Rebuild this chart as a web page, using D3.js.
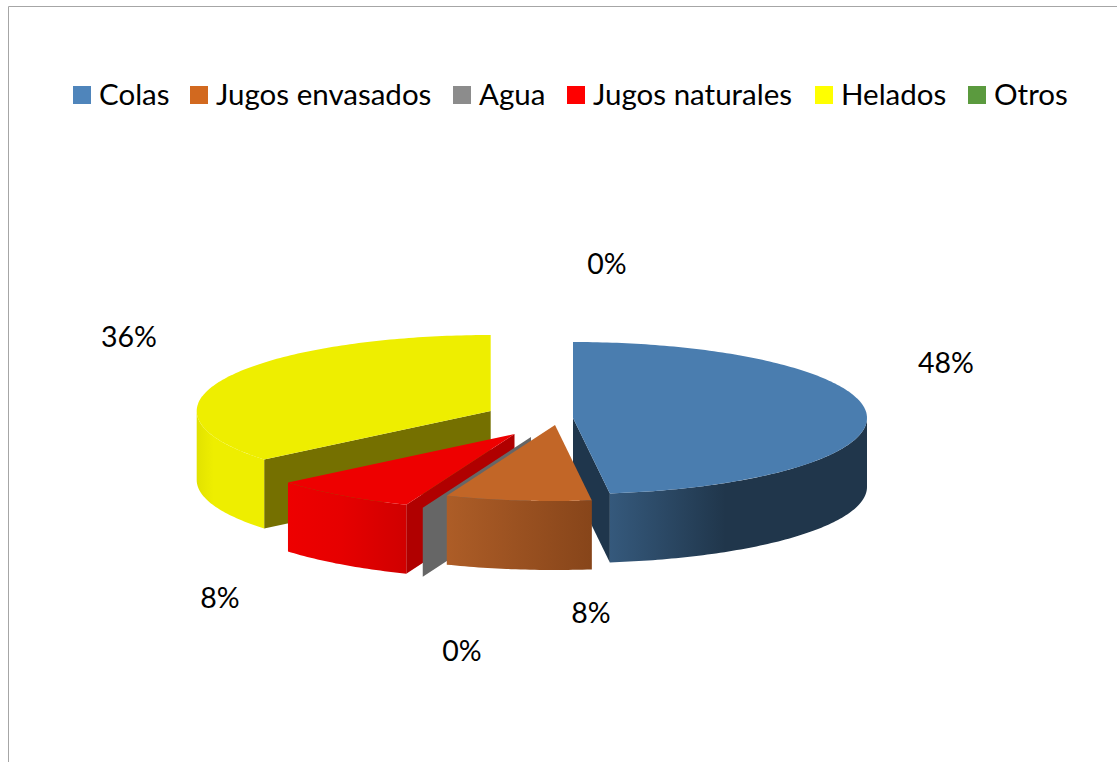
<!DOCTYPE html>
<html>
<head>
<meta charset="utf-8">
<script src="https://cdn.jsdelivr.net/npm/d3@7"></script>
<style>
html, body { margin: 0; padding: 0; background: #fff; overflow: hidden; }
text { font-family: Lato, sans-serif; fill: #000; }
</style>
</head>
<body>
<svg id="chart"></svg>
<script>
const categories = ["Colas", "Jugos envasados", "Agua", "Jugos naturales", "Helados", "Otros"];
const percents = [48, 8, 0, 8, 36, 0];

const topColors = ["#4a7daf", "#c26627", "#666666", "#ee0000", "#eeee00", "#5b9a3e"];
const radialColors = ["#1f364c", "#85441a", "#666666", "#b00000", "#757000", "#3c6629"];
const rimStops = [
    [[0, "#35597c"], [0.45, "#20364b"], [1, "#20364b"]],
    [[0, "#ad5d27"], [1, "#87451a"]],
    [[0, "#666666"], [1, "#666666"]],
    [[0, "#ee0000"], [0.45, "#e60000"], [1, "#d00000"]],
    [[0, "#e2e200"], [0.25, "#eeee00"], [1, "#eeee00"]],
    [[0, "#3c6629"], [1, "#3c6629"]]
];
const legendColors = ["#4f85bb", "#d2691f", "#8c8c8c", "#ff0000", "#ffff00", "#5b9a3e"];

const centers = [[573, 418], [555, 425], [531, 437], [514.5, 434], [490.7, 411], [530, 400]];
const labelPos = [[946, 363], [591, 613], [462, 651], [220, 598], [129, 337], [607, 264]];
const legendX = [73, 190, 453, 567, 815, 968];

const width = 1117, height = 762;
const wallHeight = 69;
const drawOrder = [4, 0, 3, 2, 1, 5];

const svg = d3.select("#chart").attr("width", width).attr("height", height);
const defs = svg.append("defs");

// unit disc to screen, the disc is squashed to look tilted
const xDisc = d3.scaleLinear().domain([-1, 1]).range([-294, 294]);
const yDisc = d3.scaleLinear().domain([-1, 1]).range([-76, 76]);

const slices = d3.pie().sort(null).value(d => d)(percents);

function rimPoint(i, a, drop) {
    return [centers[i][0] + xDisc(Math.sin(a)), centers[i][1] + yDisc(-Math.cos(a)) + drop];
}

function arcPoints(i, a0, a1, drop) {
    let n = Math.max(2, Math.ceil((a1 - a0) * 60));
    return d3.range(n + 1).map(k => rimPoint(i, a0 + (a1 - a0) * k / n, drop));
}

const line = d3.line();

// frame, only top and left are inside the picture
svg.append("path")
    .attr("d", line([[8.5, height], [8.5, 6.5], [width, 6.5]]))
    .attr("fill", "none")
    .attr("stroke", "#a6a6a6")
    .attr("stroke-width", 1);

const pieG = svg.append("g");

drawOrder.forEach(i => {
    let s = slices[i];
    let c = centers[i];
    let g = pieG.append("g").attr("class", "slice");

    // straight cut faces
    [[s.startAngle, s.startAngle > Math.PI], [s.endAngle, s.endAngle < Math.PI]].forEach(([a, show]) => {
        if (!show) return;
        let p = rimPoint(i, a, 0);
        g.append("path")
            .attr("d", line([c, p, [p[0], p[1] + wallHeight], [c[0], c[1] + wallHeight]]) + "Z")
            .attr("fill", radialColors[i]);
    });

    // curved front wall, only the part between 3 and 9 o'clock can be seen
    let a0 = Math.max(s.startAngle, Math.PI / 2);
    let a1 = Math.min(s.endAngle, Math.PI * 1.5);
    if (a1 > a0) {
        let grad = defs.append("linearGradient").attr("id", "rim" + i);
        rimStops[i].forEach(st => grad.append("stop").attr("offset", st[0]).attr("stop-color", st[1]));
        let upper = arcPoints(i, a0, a1, 0);
        let lower = arcPoints(i, a0, a1, wallHeight).reverse();
        g.append("path")
            .attr("d", line(upper.concat(lower)) + "Z")
            .attr("fill", `url(#rim${i})`);
    }

    // top face
    if (s.endAngle > s.startAngle) {
        g.append("path")
            .attr("d", line([c].concat(arcPoints(i, s.startAngle, s.endAngle, 0))) + "Z")
            .attr("fill", topColors[i]);
    }
});

// percent labels
svg.append("g").selectAll("text")
    .data(percents)
    .join("text")
    .attr("x", (d, i) => labelPos[i][0])
    .attr("y", (d, i) => labelPos[i][1])
    .attr("dy", "0.35em")
    .attr("text-anchor", "middle")
    .style("font-size", "28.5px")
    .text(d => d + "%");

// legend
let legend = svg.append("g").selectAll("g")
    .data(categories)
    .join("g")
    .attr("transform", (d, i) => `translate(${legendX[i]},86)`);

legend.append("rect")
    .attr("width", 18)
    .attr("height", 18)
    .attr("fill", (d, i) => legendColors[i]);

legend.append("text")
    .attr("x", 26)
    .attr("y", 9)
    .attr("dy", "0.35em")
    .style("font-size", "29.5px")
    .text(d => d);
</script>
</body>
</html>
